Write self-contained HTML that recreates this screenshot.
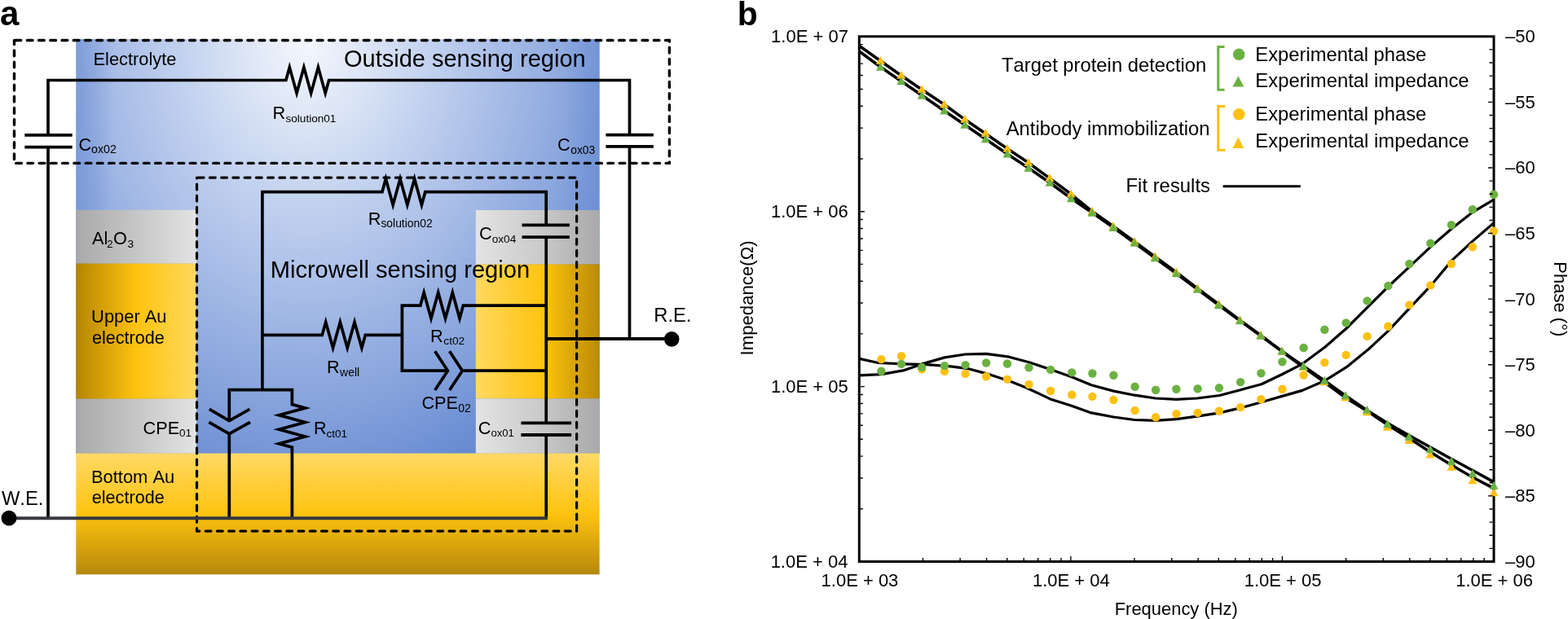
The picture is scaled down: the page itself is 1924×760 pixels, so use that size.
<!DOCTYPE html>
<html><head><meta charset="utf-8"><title>Figure</title>
<style>html,body{margin:0;padding:0;background:#fff;}svg{display:block;}</style>
</head><body>
<svg width="1924" height="760" viewBox="0 0 1924 760" font-family="'Liberation Sans', Arial, Helvetica, sans-serif" style="font-kerning:none">
<rect width="1924" height="760" fill="#fff"/>
<defs>
<radialGradient id="gBlue" gradientUnits="userSpaceOnUse" cx="0" cy="0" r="1" gradientTransform="translate(375 50) scale(430 560)">
<stop offset="0" stop-color="#f4f7fd"/>
<stop offset="0.15" stop-color="#e0e8f7"/>
<stop offset="0.35" stop-color="#c3d2ef"/>
<stop offset="0.6" stop-color="#a2b8e5"/>
<stop offset="0.8" stop-color="#86a3dc"/>
<stop offset="1" stop-color="#688bd2"/>
</radialGradient>
<linearGradient id="gVigL" gradientUnits="userSpaceOnUse" x1="93.3" y1="0" x2="140" y2="0">
<stop offset="0" stop-color="#6a8dd3" stop-opacity="0.6"/><stop offset="1" stop-color="#6a8dd3" stop-opacity="0"/>
</linearGradient>
<linearGradient id="gVigR" gradientUnits="userSpaceOnUse" x1="735.6" y1="0" x2="690" y2="0">
<stop offset="0" stop-color="#6a8dd3" stop-opacity="0.6"/><stop offset="1" stop-color="#6a8dd3" stop-opacity="0"/>
</linearGradient>
<linearGradient id="gGrayL" x1="0" y1="0" x2="1" y2="0">
<stop offset="0" stop-color="#a9a9a9"/><stop offset="0.5" stop-color="#c6c6c6"/><stop offset="1" stop-color="#e3e3e3"/>
</linearGradient>
<linearGradient id="gGrayR" x1="0" y1="0" x2="1" y2="0">
<stop offset="0" stop-color="#e3e3e3"/><stop offset="0.5" stop-color="#cbcbcb"/><stop offset="1" stop-color="#a9a9a9"/>
</linearGradient>
<linearGradient id="gGoldL" x1="0" y1="0" x2="1" y2="0">
<stop offset="0" stop-color="#b48503"/><stop offset="0.5" stop-color="#fec30f"/><stop offset="1" stop-color="#ffd95f"/>
</linearGradient>
<linearGradient id="gGoldR" x1="0" y1="0" x2="1" y2="0">
<stop offset="0" stop-color="#ffd95f"/><stop offset="0.55" stop-color="#fec30f"/><stop offset="1" stop-color="#b98a05"/>
</linearGradient>
<linearGradient id="gGoldB" x1="0" y1="0" x2="0" y2="1">
<stop offset="0" stop-color="#ffd965"/><stop offset="0.5" stop-color="#fec30f"/><stop offset="1" stop-color="#b5880a"/>
</linearGradient>
</defs>
<rect x="93.3" y="48" width="642.3" height="509.0" fill="url(#gBlue)"/>
<rect x="93.3" y="48" width="60" height="509.0" fill="url(#gVigL)"/>
<rect x="685.6" y="48" width="50" height="509.0" fill="url(#gVigR)"/>
<rect x="93.3" y="257.8" width="147.7" height="65.7" fill="url(#gGrayL)"/>
<rect x="93.3" y="323.5" width="147.7" height="166.3" fill="url(#gGoldL)"/>
<rect x="93.3" y="489.8" width="147.7" height="66.9" fill="url(#gGrayL)"/>
<rect x="583.8" y="258.0" width="151.8" height="66.4" fill="url(#gGrayR)"/>
<rect x="583.8" y="324.4" width="151.8" height="165.1" fill="url(#gGoldR)"/>
<rect x="583.8" y="489.5" width="151.8" height="67.2" fill="url(#gGrayR)"/>
<rect x="93.3" y="556.6" width="642.3" height="148.7" fill="url(#gGoldB)"/>
<line x1="17.50" y1="49.50" x2="821.40" y2="49.50" stroke="#000" stroke-width="3.40" stroke-linecap="round" stroke-dasharray="6.700 7.540" stroke-dashoffset="12.680"/>
<line x1="821.40" y1="49.50" x2="821.40" y2="200.40" stroke="#000" stroke-width="3.40" stroke-linecap="round" stroke-dasharray="6.700 7.370" stroke-dashoffset="5.270"/>
<line x1="17.50" y1="200.40" x2="821.40" y2="200.40" stroke="#000" stroke-width="3.40" stroke-linecap="round" stroke-dasharray="6.700 7.540" stroke-dashoffset="12.080"/>
<line x1="17.50" y1="49.50" x2="17.50" y2="200.40" stroke="#000" stroke-width="3.40" stroke-linecap="round" stroke-dasharray="6.700 7.400" stroke-dashoffset="1.600"/>
<line x1="241.50" y1="218.10" x2="707.60" y2="218.10" stroke="#000" stroke-width="3.20" stroke-linecap="round" stroke-dasharray="6.900 7.340" stroke-dashoffset="12.580"/>
<line x1="707.60" y1="218.10" x2="707.60" y2="652.10" stroke="#000" stroke-width="3.20" stroke-linecap="round" stroke-dasharray="6.900 7.170" stroke-dashoffset="9.170"/>
<line x1="241.50" y1="652.10" x2="707.60" y2="652.10" stroke="#000" stroke-width="3.20" stroke-linecap="round" stroke-dasharray="6.900 7.330" stroke-dashoffset="3.600"/>
<line x1="241.50" y1="218.10" x2="241.50" y2="652.10" stroke="#000" stroke-width="3.20" stroke-linecap="round" stroke-dasharray="6.900 7.180" stroke-dashoffset="6.100"/>
<g fill="none" stroke="#000" stroke-width="3.7" stroke-linejoin="miter" stroke-miterlimit="8">
<polyline points="59.00,165.90 59.00,98.50 350.90,98.50 355.29,82.63 364.07,114.37 372.86,82.63 381.64,114.37 390.43,82.63 399.21,114.37 403.60,98.50 772.50,98.50 772.50,165.60" fill="none" stroke="#000" stroke-width="3.70"/>
<line x1="59.00" y1="180.60" x2="59.00" y2="636.30" stroke="#000" stroke-width="3.70"/>
<line x1="772.50" y1="179.80" x2="772.50" y2="416.00" stroke="#000" stroke-width="3.70"/>
<line x1="30.30" y1="165.90" x2="88.70" y2="165.90" stroke="#000" stroke-width="3.80"/>
<line x1="30.30" y1="180.60" x2="88.70" y2="180.60" stroke="#000" stroke-width="3.80"/>
<line x1="743.40" y1="165.60" x2="801.90" y2="165.60" stroke="#000" stroke-width="3.80"/>
<line x1="743.40" y1="179.80" x2="801.90" y2="179.80" stroke="#000" stroke-width="3.80"/>
<line x1="670.20" y1="416.00" x2="824.20" y2="416.00" stroke="#000" stroke-width="3.80"/>
<polyline points="321.90,478.70 321.90,235.60 469.00,235.60 473.40,219.58 482.20,251.62 491.00,219.58 499.80,251.62 508.60,219.58 517.40,251.62 521.80,235.60 670.20,235.60 670.20,276.40" fill="none" stroke="#000" stroke-width="3.70"/>
<line x1="670.20" y1="291.20" x2="670.20" y2="519.30" stroke="#000" stroke-width="3.70"/>
<line x1="670.20" y1="534.00" x2="670.20" y2="636.30" stroke="#000" stroke-width="3.70"/>
<line x1="640.50" y1="276.40" x2="698.90" y2="276.40" stroke="#000" stroke-width="3.80"/>
<line x1="640.50" y1="291.20" x2="698.90" y2="291.20" stroke="#000" stroke-width="3.80"/>
<line x1="639.40" y1="519.30" x2="701.10" y2="519.30" stroke="#000" stroke-width="3.80"/>
<line x1="639.40" y1="534.00" x2="701.10" y2="534.00" stroke="#000" stroke-width="3.80"/>
<polyline points="321.90,411.30 395.30,411.30 399.72,395.41 408.55,427.19 417.38,395.41 426.22,427.19 435.05,395.41 443.88,427.19 448.30,411.30 493.40,411.30" fill="none" stroke="#000" stroke-width="3.70"/>
<polyline points="670.20,375.10 568.40,375.10 564.02,390.96 555.25,359.24 546.48,390.96 537.72,359.24 528.95,390.96 520.18,359.24 515.80,375.10 493.40,375.10 493.40,455.20 549.40,455.20" fill="none" stroke="#000" stroke-width="3.70"/>
<polyline points="533.70,431.30 549.40,455.20 533.70,479.10" fill="none" stroke="#000" stroke-width="3.70"/>
<polyline points="551.60,431.30 567.30,455.20 551.60,479.10" fill="none" stroke="#000" stroke-width="3.70"/>
<line x1="567.30" y1="455.20" x2="670.20" y2="455.20" stroke="#000" stroke-width="3.70"/>
<polyline points="281.30,516.30 281.30,478.70 358.40,478.70 358.40,496.60 374.47,500.98 342.33,509.75 374.47,518.52 342.33,527.28 374.47,536.05 342.33,544.82 358.40,549.20 358.40,636.30" fill="none" stroke="#000" stroke-width="3.70"/>
<polyline points="256.80,502.40 281.30,516.50 306.40,502.40" fill="none" stroke="#000" stroke-width="3.70"/>
<polyline points="256.40,518.40 281.30,532.60 307.00,518.40" fill="none" stroke="#000" stroke-width="3.70"/>
<line x1="281.30" y1="532.60" x2="281.30" y2="636.30" stroke="#000" stroke-width="3.70"/>
</g>
<line x1="10.90" y1="636.30" x2="672.00" y2="636.30" stroke="#36383d" stroke-width="4.00"/>
<circle cx="11.0" cy="636.2" r="9.4" fill="#000"/>
<circle cx="824.2" cy="416.4" r="9.3" fill="#000"/>
<text x="-0.03" y="30.80" font-size="42.00" font-weight="bold">a</text>
<text x="114.51" y="80.00" font-size="21.84">Electrolyte</text>
<text x="421.93" y="82.40" font-size="29.02">Outside sensing region</text>
<text x="334.62" y="146.40" font-size="21.70">R</text>
<text x="350.52" y="149.50" font-size="13.59">solution01</text>
<text x="96.40" y="185.00" font-size="21.70">C</text>
<text x="112.11" y="188.30" font-size="14.16">ox02</text>
<text x="684.10" y="185.20" font-size="21.70">C</text>
<text x="700.22" y="188.50" font-size="13.83">ox03</text>
<text x="113.06" y="300.40" font-size="21.70">Al</text>
<text x="131.11" y="304.20" font-size="13.70">2</text>
<text x="138.97" y="300.40" font-size="21.70">O</text>
<text x="156.48" y="304.20" font-size="13.70">3</text>
<text x="451.82" y="275.60" font-size="21.70">R</text>
<text x="467.41" y="279.10" font-size="13.88">solution02</text>
<text x="588.10" y="293.80" font-size="21.70">C</text>
<text x="603.63" y="297.60" font-size="13.69">ox04</text>
<text x="331.71" y="340.90" font-size="29.09">Microwell sensing region</text>
<text x="112.11" y="396.10" font-size="21.88">Upper Au</text>
<text x="112.88" y="421.70" font-size="21.65">electrode</text>
<text x="527.92" y="419.80" font-size="21.70">R</text>
<text x="544.32" y="423.20" font-size="13.69">ct02</text>
<text x="401.02" y="458.30" font-size="21.70">R</text>
<text x="417.02" y="461.90" font-size="14.06">well</text>
<text x="517.40" y="501.60" font-size="21.71">CPE</text>
<text x="562.25" y="505.80" font-size="14.08">02</text>
<text x="175.50" y="532.80" font-size="21.70">CPE</text>
<text x="219.97" y="536.00" font-size="13.57">01</text>
<text x="385.02" y="533.00" font-size="21.70">R</text>
<text x="400.42" y="536.80" font-size="13.62">ct01</text>
<text x="586.70" y="532.80" font-size="21.70">C</text>
<text x="602.45" y="536.00" font-size="13.09">ox01</text>
<text x="111.90" y="593.00" font-size="21.94">Bottom Au</text>
<text x="112.78" y="618.30" font-size="21.63">electrode</text>
<text x="1.90" y="620.00" font-size="23.81">W.E.</text>
<text x="802.25" y="394.50" font-size="23.77">R.E.</text>
<g>
<clipPath id="plotclip"><rect x="1054.3" y="44.8" width="778.7" height="644.7"/></clipPath>
<g clip-path="url(#plotclip)" fill="none" stroke="#000" stroke-linejoin="round">
<polyline points="1054.30,56.20 1080.40,74.80 1105.90,92.70 1131.10,110.10 1158.60,128.30 1183.80,146.60 1209.30,163.90 1235.90,182.50 1262.00,199.80 1288.00,218.90 1314.10,238.30 1340.00,259.50 1366.00,277.80 1392.10,296.60 1417.30,315.10 1443.30,334.20 1469.40,354.10 1495.40,373.50 1521.50,393.20 1547.00,411.70 1573.00,431.50 1599.30,450.90 1625.10,469.10 1650.90,488.20 1677.30,504.50 1702.50,521.50 1728.90,538.00 1755.00,555.00 1781.00,571.00 1806.90,586.00 1833.00,599.60" fill="none" stroke="#000" stroke-width="3.60"/>
<polyline points="1054.30,63.00 1080.40,82.30 1105.90,99.70 1131.10,117.10 1158.60,135.90 1183.80,153.30 1209.30,170.70 1235.90,188.90 1262.00,206.30 1288.00,224.20 1314.30,243.60 1340.00,261.10 1366.00,279.40 1392.10,298.20 1417.30,316.70 1443.30,335.80 1469.40,355.20 1495.40,374.60 1521.50,393.80 1547.00,412.30 1573.00,431.10 1599.30,449.50 1625.10,467.20 1650.90,485.80 1677.30,503.80 1702.50,519.50 1728.90,534.50 1755.00,549.00 1781.00,563.50 1806.90,577.50 1833.00,591.90" fill="none" stroke="#000" stroke-width="3.60"/>
<polyline points="1054.30,440.40 1077.70,445.50 1108.20,446.90 1137.30,447.70 1166.40,449.80 1188.30,452.70 1210.10,458.60 1239.20,468.00 1261.00,476.80 1288.70,489.90 1314.90,498.30 1339.10,506.90 1366.40,512.00 1392.10,515.50 1417.80,516.30 1443.40,514.60 1469.10,511.20 1496.50,506.90 1522.10,500.90 1547.80,493.70 1573.40,486.40 1598.00,479.40 1626.00,467.20 1652.30,450.70 1678.60,429.30 1703.30,406.30 1729.60,378.30 1755.90,350.40 1780.60,320.70 1806.90,296.10 1833.00,273.70" fill="none" stroke="#000" stroke-width="3.20"/>
<polyline points="1054.30,460.80 1081.30,459.60 1108.20,454.90 1131.50,446.90 1159.20,438.90 1184.60,435.00 1210.10,434.30 1236.30,437.80 1262.50,444.70 1288.70,453.50 1314.90,462.70 1339.10,472.70 1366.40,480.10 1392.10,485.20 1417.80,489.00 1443.40,490.30 1469.10,489.00 1496.50,485.50 1522.10,478.70 1547.80,471.80 1573.40,459.50 1598.00,446.80 1626.00,426.00 1652.30,403.00 1678.60,376.70 1703.30,352.00 1729.60,327.30 1755.90,302.60 1780.60,281.30 1806.90,260.50 1833.00,245.10" fill="none" stroke="#000" stroke-width="3.20"/>
</g>
<rect x="1054.30" y="44.80" width="778.70" height="644.70" fill="none" stroke="#000" stroke-width="3"/>
<path d="M1080.40 68.93L1085.90 78.93L1074.90 78.93Z" fill="#fec012"/>
<path d="M1105.90 86.83L1111.40 96.83L1100.40 96.83Z" fill="#fec012"/>
<path d="M1131.10 104.23L1136.60 114.23L1125.60 114.23Z" fill="#fec012"/>
<path d="M1158.60 122.43L1164.10 132.43L1153.10 132.43Z" fill="#fec012"/>
<path d="M1183.80 140.73L1189.30 150.73L1178.30 150.73Z" fill="#fec012"/>
<path d="M1209.30 158.03L1214.80 168.03L1203.80 168.03Z" fill="#fec012"/>
<path d="M1235.90 176.63L1241.40 186.63L1230.40 186.63Z" fill="#fec012"/>
<path d="M1262.00 193.93L1267.50 203.93L1256.50 203.93Z" fill="#fec012"/>
<path d="M1288.00 213.03L1293.50 223.03L1282.50 223.03Z" fill="#fec012"/>
<path d="M1314.10 232.43L1319.60 242.43L1308.60 242.43Z" fill="#fec012"/>
<path d="M1340.00 253.63L1345.50 263.63L1334.50 263.63Z" fill="#fec012"/>
<path d="M1366.00 271.93L1371.50 281.93L1360.50 281.93Z" fill="#fec012"/>
<path d="M1392.10 290.73L1397.60 300.73L1386.60 300.73Z" fill="#fec012"/>
<path d="M1417.30 309.23L1422.80 319.23L1411.80 319.23Z" fill="#fec012"/>
<path d="M1443.30 328.33L1448.80 338.33L1437.80 338.33Z" fill="#fec012"/>
<path d="M1469.40 348.23L1474.90 358.23L1463.90 358.23Z" fill="#fec012"/>
<path d="M1495.40 367.63L1500.90 377.63L1489.90 377.63Z" fill="#fec012"/>
<path d="M1521.50 387.33L1527.00 397.33L1516.00 397.33Z" fill="#fec012"/>
<path d="M1547.00 405.83L1552.50 415.83L1541.50 415.83Z" fill="#fec012"/>
<path d="M1573.00 425.63L1578.50 435.63L1567.50 435.63Z" fill="#fec012"/>
<path d="M1599.30 445.03L1604.80 455.03L1593.80 455.03Z" fill="#fec012"/>
<path d="M1625.10 463.23L1630.60 473.23L1619.60 473.23Z" fill="#fec012"/>
<path d="M1650.90 482.33L1656.40 492.33L1645.40 492.33Z" fill="#fec012"/>
<path d="M1677.30 500.23L1682.80 510.23L1671.80 510.23Z" fill="#fec012"/>
<path d="M1702.50 518.83L1708.00 528.83L1697.00 528.83Z" fill="#fec012"/>
<path d="M1728.90 535.03L1734.40 545.03L1723.40 545.03Z" fill="#fec012"/>
<path d="M1755.00 552.53L1760.50 562.53L1749.50 562.53Z" fill="#fec012"/>
<path d="M1781.00 567.73L1786.50 577.73L1775.50 577.73Z" fill="#fec012"/>
<path d="M1806.90 584.13L1812.40 594.13L1801.40 594.13Z" fill="#fec012"/>
<path d="M1833.00 599.23L1838.50 609.23L1827.50 609.23Z" fill="#fec012"/>
<path d="M1080.40 76.83L1085.90 86.83L1074.90 86.83Z" fill="#6bb142"/>
<path d="M1105.90 94.23L1111.40 104.23L1100.40 104.23Z" fill="#6bb142"/>
<path d="M1131.10 111.63L1136.60 121.63L1125.60 121.63Z" fill="#6bb142"/>
<path d="M1158.60 130.43L1164.10 140.43L1153.10 140.43Z" fill="#6bb142"/>
<path d="M1183.80 147.83L1189.30 157.83L1178.30 157.83Z" fill="#6bb142"/>
<path d="M1209.30 165.23L1214.80 175.23L1203.80 175.23Z" fill="#6bb142"/>
<path d="M1235.90 183.43L1241.40 193.43L1230.40 193.43Z" fill="#6bb142"/>
<path d="M1262.00 200.83L1267.50 210.83L1256.50 210.83Z" fill="#6bb142"/>
<path d="M1288.00 218.73L1293.50 228.73L1282.50 228.73Z" fill="#6bb142"/>
<path d="M1314.30 238.13L1319.80 248.13L1308.80 248.13Z" fill="#6bb142"/>
<path d="M1340.00 255.63L1345.50 265.63L1334.50 265.63Z" fill="#6bb142"/>
<path d="M1366.00 273.93L1371.50 283.93L1360.50 283.93Z" fill="#6bb142"/>
<path d="M1392.10 292.73L1397.60 302.73L1386.60 302.73Z" fill="#6bb142"/>
<path d="M1417.30 311.23L1422.80 321.23L1411.80 321.23Z" fill="#6bb142"/>
<path d="M1443.30 330.33L1448.80 340.33L1437.80 340.33Z" fill="#6bb142"/>
<path d="M1469.40 349.73L1474.90 359.73L1463.90 359.73Z" fill="#6bb142"/>
<path d="M1495.40 369.13L1500.90 379.13L1489.90 379.13Z" fill="#6bb142"/>
<path d="M1521.50 388.33L1527.00 398.33L1516.00 398.33Z" fill="#6bb142"/>
<path d="M1547.00 406.83L1552.50 416.83L1541.50 416.83Z" fill="#6bb142"/>
<path d="M1573.00 425.63L1578.50 435.63L1567.50 435.63Z" fill="#6bb142"/>
<path d="M1599.30 444.03L1604.80 454.03L1593.80 454.03Z" fill="#6bb142"/>
<path d="M1625.10 461.73L1630.60 471.73L1619.60 471.73Z" fill="#6bb142"/>
<path d="M1650.90 480.33L1656.40 490.33L1645.40 490.33Z" fill="#6bb142"/>
<path d="M1677.30 497.83L1682.80 507.83L1671.80 507.83Z" fill="#6bb142"/>
<path d="M1702.50 515.33L1708.00 525.33L1697.00 525.33Z" fill="#6bb142"/>
<path d="M1728.90 530.63L1734.40 540.63L1723.40 540.63Z" fill="#6bb142"/>
<path d="M1755.00 546.33L1760.50 556.33L1749.50 556.33Z" fill="#6bb142"/>
<path d="M1781.00 560.93L1786.50 570.93L1775.50 570.93Z" fill="#6bb142"/>
<path d="M1806.90 575.93L1812.40 585.93L1801.40 585.93Z" fill="#6bb142"/>
<path d="M1833.00 590.73L1838.50 600.73L1827.50 600.73Z" fill="#6bb142"/>
<circle cx="1081.30" cy="441.10" r="5.2" fill="#fec012"/>
<circle cx="1106.00" cy="437.20" r="5.2" fill="#fec012"/>
<circle cx="1131.10" cy="453.20" r="5.2" fill="#fec012"/>
<circle cx="1158.90" cy="455.70" r="5.2" fill="#fec012"/>
<circle cx="1184.60" cy="458.90" r="5.2" fill="#fec012"/>
<circle cx="1210.10" cy="462.20" r="5.2" fill="#fec012"/>
<circle cx="1236.00" cy="465.60" r="5.2" fill="#fec012"/>
<circle cx="1262.50" cy="472.00" r="5.2" fill="#fec012"/>
<circle cx="1289.10" cy="480.00" r="5.2" fill="#fec012"/>
<circle cx="1315.20" cy="484.80" r="5.2" fill="#fec012"/>
<circle cx="1340.40" cy="486.90" r="5.2" fill="#fec012"/>
<circle cx="1366.40" cy="491.00" r="5.2" fill="#fec012"/>
<circle cx="1392.60" cy="504.00" r="5.2" fill="#fec012"/>
<circle cx="1418.10" cy="512.20" r="5.2" fill="#fec012"/>
<circle cx="1443.40" cy="508.10" r="5.2" fill="#fec012"/>
<circle cx="1469.60" cy="506.90" r="5.2" fill="#fec012"/>
<circle cx="1495.90" cy="504.70" r="5.2" fill="#fec012"/>
<circle cx="1522.10" cy="500.10" r="5.2" fill="#fec012"/>
<circle cx="1547.40" cy="490.30" r="5.2" fill="#fec012"/>
<circle cx="1573.40" cy="477.80" r="5.2" fill="#fec012"/>
<circle cx="1599.60" cy="460.60" r="5.2" fill="#fec012"/>
<circle cx="1625.30" cy="445.10" r="5.2" fill="#fec012"/>
<circle cx="1651.60" cy="435.90" r="5.2" fill="#fec012"/>
<circle cx="1677.60" cy="412.90" r="5.2" fill="#fec012"/>
<circle cx="1703.30" cy="400.70" r="5.2" fill="#fec012"/>
<circle cx="1729.30" cy="374.40" r="5.2" fill="#fec012"/>
<circle cx="1755.30" cy="350.40" r="5.2" fill="#fec012"/>
<circle cx="1780.90" cy="324.00" r="5.2" fill="#fec012"/>
<circle cx="1806.90" cy="303.30" r="5.2" fill="#fec012"/>
<circle cx="1833.00" cy="283.60" r="5.2" fill="#fec012"/>
<circle cx="1081.30" cy="455.70" r="5.2" fill="#6bb142"/>
<circle cx="1106.00" cy="446.90" r="5.2" fill="#6bb142"/>
<circle cx="1131.10" cy="450.90" r="5.2" fill="#6bb142"/>
<circle cx="1158.90" cy="449.10" r="5.2" fill="#6bb142"/>
<circle cx="1184.60" cy="448.10" r="5.2" fill="#6bb142"/>
<circle cx="1210.10" cy="445.50" r="5.2" fill="#6bb142"/>
<circle cx="1236.00" cy="446.50" r="5.2" fill="#6bb142"/>
<circle cx="1262.50" cy="451.30" r="5.2" fill="#6bb142"/>
<circle cx="1289.10" cy="453.90" r="5.2" fill="#6bb142"/>
<circle cx="1315.20" cy="457.40" r="5.2" fill="#6bb142"/>
<circle cx="1340.40" cy="458.50" r="5.2" fill="#6bb142"/>
<circle cx="1366.40" cy="460.70" r="5.2" fill="#6bb142"/>
<circle cx="1392.60" cy="474.80" r="5.2" fill="#6bb142"/>
<circle cx="1418.10" cy="478.70" r="5.2" fill="#6bb142"/>
<circle cx="1443.40" cy="477.80" r="5.2" fill="#6bb142"/>
<circle cx="1469.60" cy="477.30" r="5.2" fill="#6bb142"/>
<circle cx="1495.90" cy="476.30" r="5.2" fill="#6bb142"/>
<circle cx="1522.10" cy="469.10" r="5.2" fill="#6bb142"/>
<circle cx="1547.40" cy="458.20" r="5.2" fill="#6bb142"/>
<circle cx="1573.40" cy="444.30" r="5.2" fill="#6bb142"/>
<circle cx="1599.60" cy="427.00" r="5.2" fill="#6bb142"/>
<circle cx="1625.30" cy="404.70" r="5.2" fill="#6bb142"/>
<circle cx="1651.60" cy="396.40" r="5.2" fill="#6bb142"/>
<circle cx="1677.60" cy="369.40" r="5.2" fill="#6bb142"/>
<circle cx="1703.30" cy="351.00" r="5.2" fill="#6bb142"/>
<circle cx="1729.30" cy="324.00" r="5.2" fill="#6bb142"/>
<circle cx="1755.30" cy="298.70" r="5.2" fill="#6bb142"/>
<circle cx="1780.90" cy="276.30" r="5.2" fill="#6bb142"/>
<circle cx="1806.90" cy="257.20" r="5.2" fill="#6bb142"/>
<circle cx="1833.00" cy="238.80" r="5.2" fill="#6bb142"/>
<path d="M1055.80 624.81L1058.80 624.81M1132.44 688.00L1132.44 685.00M1055.80 586.97L1058.80 586.97M1178.14 688.00L1178.14 685.00M1055.80 560.12L1058.80 560.12M1210.57 688.00L1210.57 685.00M1055.80 539.29L1058.80 539.29M1235.73 688.00L1235.73 685.00M1055.80 522.28L1058.80 522.28M1256.28 688.00L1256.28 685.00M1055.80 507.89L1058.80 507.89M1273.66 688.00L1273.66 685.00M1055.80 495.43L1058.80 495.43M1288.71 688.00L1288.71 685.00M1055.80 484.43L1058.80 484.43M1301.99 688.00L1301.99 685.00M1055.80 474.60L1060.80 474.60M1313.87 688.00L1313.87 683.00M1055.80 409.91L1058.80 409.91M1392.00 688.00L1392.00 685.00M1055.80 372.07L1058.80 372.07M1437.71 688.00L1437.71 685.00M1055.80 345.22L1058.80 345.22M1470.14 688.00L1470.14 685.00M1055.80 324.39L1058.80 324.39M1495.30 688.00L1495.30 685.00M1055.80 307.38L1058.80 307.38M1515.85 688.00L1515.85 685.00M1055.80 292.99L1058.80 292.99M1533.23 688.00L1533.23 685.00M1055.80 280.53L1058.80 280.53M1548.28 688.00L1548.28 685.00M1055.80 269.53L1058.80 269.53M1561.56 688.00L1561.56 685.00M1055.80 259.70L1060.80 259.70M1573.43 688.00L1573.43 683.00M1055.80 195.01L1058.80 195.01M1651.57 688.00L1651.57 685.00M1055.80 157.17L1058.80 157.17M1697.28 688.00L1697.28 685.00M1055.80 130.32L1058.80 130.32M1729.71 688.00L1729.71 685.00M1055.80 109.49L1058.80 109.49M1754.86 688.00L1754.86 685.00M1055.80 92.48L1058.80 92.48M1775.42 688.00L1775.42 685.00M1055.80 78.09L1058.80 78.09M1792.79 688.00L1792.79 685.00M1055.80 65.63L1058.80 65.63M1807.85 688.00L1807.85 685.00M1055.80 54.63L1058.80 54.63M1821.12 688.00L1821.12 685.00M1831.50 60.92L1827.50 60.92M1831.50 77.03L1827.50 77.03M1831.50 93.15L1827.50 93.15M1831.50 109.27L1827.50 109.27M1831.50 125.39L1826.00 125.39M1831.50 141.50L1827.50 141.50M1831.50 157.62L1827.50 157.62M1831.50 173.74L1827.50 173.74M1831.50 189.86L1827.50 189.86M1831.50 205.98L1826.00 205.98M1831.50 222.09L1827.50 222.09M1831.50 238.21L1827.50 238.21M1831.50 254.33L1827.50 254.33M1831.50 270.45L1827.50 270.45M1831.50 286.56L1826.00 286.56M1831.50 302.68L1827.50 302.68M1831.50 318.80L1827.50 318.80M1831.50 334.92L1827.50 334.92M1831.50 351.03L1827.50 351.03M1831.50 367.15L1826.00 367.15M1831.50 383.27L1827.50 383.27M1831.50 399.39L1827.50 399.39M1831.50 415.50L1827.50 415.50M1831.50 431.62L1827.50 431.62M1831.50 447.74L1826.00 447.74M1831.50 463.86L1827.50 463.86M1831.50 479.97L1827.50 479.97M1831.50 496.09L1827.50 496.09M1831.50 512.21L1827.50 512.21M1831.50 528.32L1826.00 528.32M1831.50 544.44L1827.50 544.44M1831.50 560.56L1827.50 560.56M1831.50 576.68L1827.50 576.68M1831.50 592.80L1827.50 592.80M1831.50 608.91L1826.00 608.91M1831.50 625.03L1827.50 625.03M1831.50 641.15L1827.50 641.15M1831.50 657.26L1827.50 657.26M1831.50 673.38L1827.50 673.38" stroke="#000" stroke-width="1.4" fill="none"/>
</g>
<path d="M1502.6 57.5H1494.8V110.2H1502.6" fill="none" stroke="#6bb142" stroke-width="3"/>
<path d="M1503.6 130.5H1494.8V184.2H1503.6" fill="none" stroke="#fec012" stroke-width="3"/>
<circle cx="1520.2" cy="66.8" r="7.3" fill="#6bb142"/>
<circle cx="1520.2" cy="140.3" r="7.3" fill="#fec012"/>
<path d="M1519.4 93.2L1526.3 106.5L1512.5 106.5Z" fill="#6bb142"/>
<path d="M1519.4 168.4L1526.3 182.0L1512.5 182.0Z" fill="#fec012"/>
<line x1="1500.70" y1="228.70" x2="1595.80" y2="228.70" stroke="#000" stroke-width="3.00"/>
<text x="904.70" y="30.80" font-size="41.00" font-weight="bold">b</text>
<text x="946.11" y="52.40" font-size="22.00">1.0E + 07</text>
<text x="945.97" y="267.30" font-size="22.00">1.0E + 06</text>
<text x="945.92" y="482.20" font-size="22.00">1.0E + 05</text>
<text x="945.64" y="697.10" font-size="22.00">1.0E + 04</text>
<text x="1007.55" y="720.20" font-size="22.00">1.0E + 03</text>
<text x="1266.95" y="720.20" font-size="22.00">1.0E + 04</text>
<text x="1526.66" y="720.20" font-size="22.00">1.0E + 05</text>
<text x="1786.25" y="720.20" font-size="22.00">1.0E + 06</text>
<text x="1847.00" y="52.30" font-size="22.00">–50</text>
<text x="1847.00" y="132.89" font-size="22.00">–55</text>
<text x="1847.00" y="213.48" font-size="22.00">–60</text>
<text x="1847.00" y="294.06" font-size="22.00">–65</text>
<text x="1847.00" y="374.65" font-size="22.00">–70</text>
<text x="1847.00" y="455.24" font-size="22.00">–75</text>
<text x="1847.00" y="535.82" font-size="22.00">–80</text>
<text x="1847.00" y="616.41" font-size="22.00">–85</text>
<text x="1847.00" y="697.00" font-size="22.00">–90</text>
<text x="1367.70" y="754.50" font-size="21.95">Frequency (Hz)</text>
<text x="1228.97" y="87.90" font-size="23.81">Target protein detection</text>
<text x="1234.75" y="166.40" font-size="23.79">Antibody immobilization</text>
<text x="1540.35" y="75.00" font-size="23.76">Experimental phase</text>
<text x="1540.34" y="106.60" font-size="23.83">Experimental impedance</text>
<text x="1540.35" y="148.00" font-size="23.76">Experimental phase</text>
<text x="1540.34" y="181.20" font-size="23.83">Experimental impedance</text>
<text x="1381.54" y="235.60" font-size="23.86">Fit results</text>
<text transform="translate(923.7 365.9) rotate(-90)" text-anchor="middle" font-size="22.2">Impedance(Ω)</text>
<text transform="translate(1907.2 367.3) rotate(90)" text-anchor="middle" font-size="22">Phase (°)</text>
</svg>
</body></html>
